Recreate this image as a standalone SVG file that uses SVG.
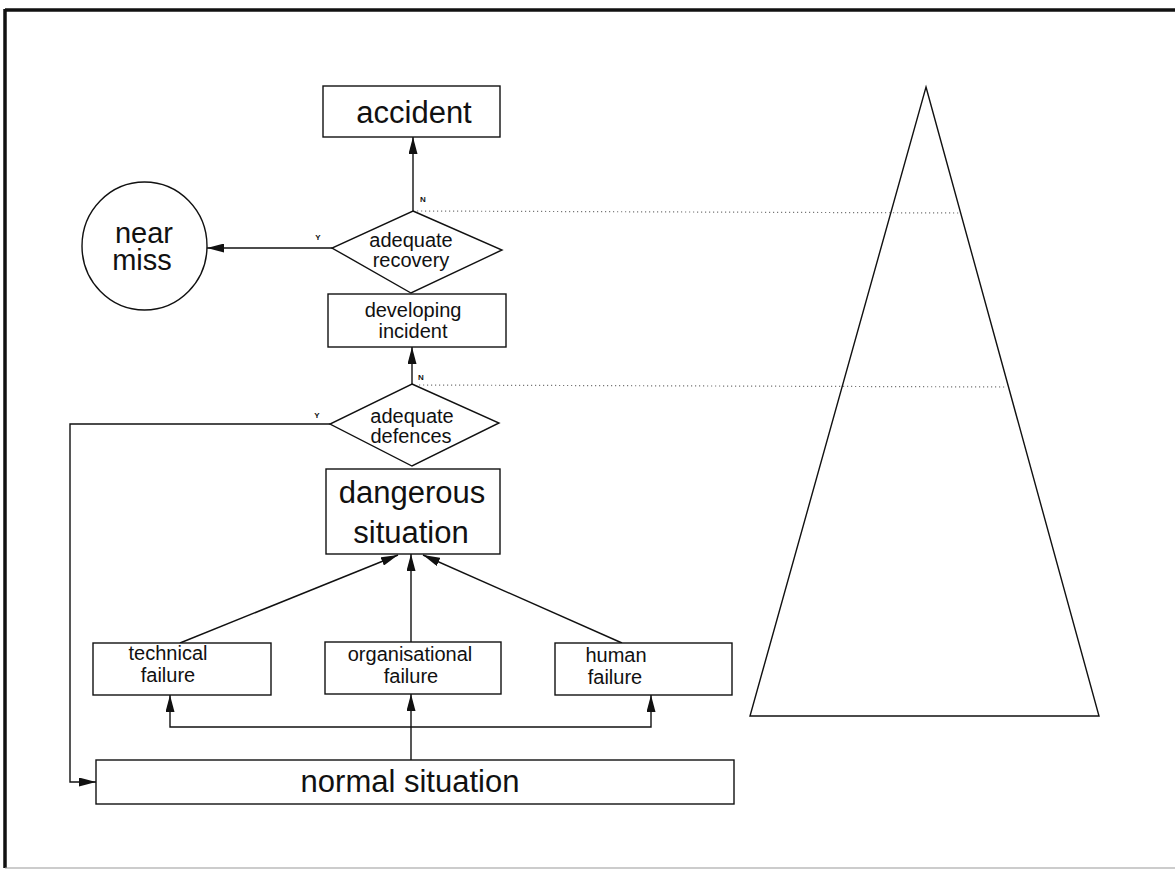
<svg xmlns="http://www.w3.org/2000/svg" width="1175" height="870" viewBox="0 0 1175 870">
  <defs>
    <marker id="arrow" viewBox="0 0 17 9" refX="17" refY="4.5" markerWidth="17" markerHeight="9" markerUnits="userSpaceOnUse" orient="auto">
      <path d="M0,0 L17,4.5 L0,9 z" fill="#111"/>
    </marker>
  </defs>
  <style>
    .box{fill:#fff;stroke:#111;stroke-width:1.4}
    .txt{font-family:"Liberation Sans",Arial,sans-serif;fill:#111;text-anchor:middle}
    .big{font-size:31px}
    .mid{font-size:29px}
    .small{font-size:20px}
    .yn{font-size:8px;font-weight:bold}
    .con{fill:none;stroke:#111;stroke-width:1.4}
    .dot{fill:none;stroke:#777;stroke-width:1.2;stroke-dasharray:1.2 2.8}
  </style>
  <rect x="0" y="0" width="1175" height="870" fill="#fff"/>

  <!-- page frame -->
  <g id="frame">
    <line x1="5" y1="10" x2="1175" y2="10" stroke="#111" stroke-width="3.5"/>
    <line x1="5" y1="9" x2="5" y2="868" stroke="#111" stroke-width="3.5"/>
    <line x1="5" y1="868" x2="1175" y2="868" stroke="#999" stroke-width="1"/>
  </g>

  <!-- connectors -->
  <g id="connectors">
    <path class="con" d="M413,211 V137" marker-end="url(#arrow)"/>
    <path class="con" d="M332,248 H207" marker-end="url(#arrow)"/>
    <path class="con" d="M412,384 V347" marker-end="url(#arrow)"/>
    <path class="con" d="M330,424 H70 V782 H96" marker-end="url(#arrow)"/>
    <path class="con" d="M411,642 V554" marker-end="url(#arrow)"/>
    <path class="con" d="M180,643 L398,555" marker-end="url(#arrow)"/>
    <path class="con" d="M622,643 L423,555" marker-end="url(#arrow)"/>
    <path class="con" d="M411,760 V694" marker-end="url(#arrow)"/>
    <path class="con" d="M411,727 H170 V695" marker-end="url(#arrow)"/>
    <path class="con" d="M411,727 H651 V695" marker-end="url(#arrow)"/>
    <path class="dot" d="M417,211 L961,213"/>
    <path class="dot" d="M419,385 L1007,387"/>
    <text class="txt yn" x="423" y="202">N</text>
    <text class="txt yn" x="318" y="240">Y</text>
    <text class="txt yn" x="421" y="380">N</text>
    <text class="txt yn" x="317" y="418">Y</text>
  </g>

  <g id="accident">
    <rect class="box" x="323" y="86" width="177" height="51"/>
    <text class="txt big" x="414" y="123">accident</text>
  </g>

  <g id="near-miss">
    <ellipse class="box" cx="144.5" cy="246" rx="62.5" ry="64" stroke-width="1.7"/>
    <text class="txt mid" x="144" y="243">near</text>
    <text class="txt mid" x="142" y="270">miss</text>
  </g>

  <g id="adequate-recovery">
    <polygon class="box" points="413,211 502,250 411,293 332,248"/>
    <text class="txt small" x="411" y="247">adequate</text>
    <text class="txt small" x="411" y="267">recovery</text>
  </g>

  <g id="developing-incident">
    <rect class="box" x="328" y="294" width="178" height="53"/>
    <text class="txt small" x="413" y="317">developing</text>
    <text class="txt small" x="413" y="338">incident</text>
  </g>

  <g id="adequate-defences">
    <polygon class="box" points="412,384 499,423 412,466 330,424"/>
    <text class="txt small" x="412" y="423">adequate</text>
    <text class="txt small" x="411" y="443">defences</text>
  </g>

  <g id="dangerous-situation">
    <rect class="box" x="326" y="469" width="174" height="85"/>
    <text class="txt big" x="412" y="503">dangerous</text>
    <text class="txt big" x="411" y="543">situation</text>
  </g>

  <g id="technical-failure">
    <rect class="box" x="93" y="643" width="178" height="52"/>
    <text class="txt small" x="168" y="660">technical</text>
    <text class="txt small" x="168" y="682">failure</text>
  </g>

  <g id="organisational-failure">
    <rect class="box" x="325" y="642" width="176" height="52"/>
    <text class="txt small" x="410" y="661">organisational</text>
    <text class="txt small" x="411" y="683">failure</text>
  </g>

  <g id="human-failure">
    <rect class="box" x="555" y="643" width="177" height="52"/>
    <text class="txt small" x="616" y="662">human</text>
    <text class="txt small" x="615" y="684">failure</text>
  </g>

  <g id="normal-situation">
    <rect class="box" x="96" y="760" width="638" height="44"/>
    <text class="txt big" x="410" y="792">normal situation</text>
  </g>

  <!-- pyramid of events -->
  <g id="pyramid">
    <polygon class="con" points="926,87 1099,716 750,716"/>
  </g>
</svg>
